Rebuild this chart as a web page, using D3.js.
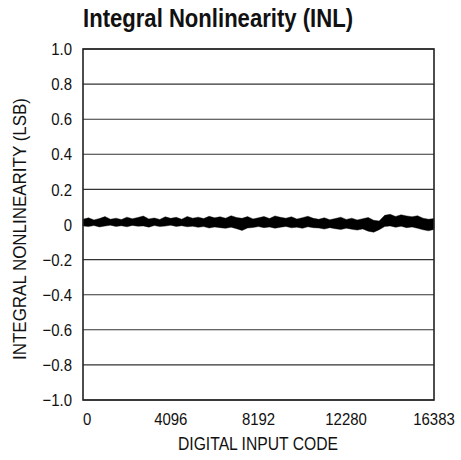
<!DOCTYPE html>
<html>
<head>
<meta charset="utf-8">
<script src="https://cdn.jsdelivr.net/npm/d3@7"></script>
<style>
  body { margin: 0; background: #fff; }
  text { font-family: "Liberation Sans Narrow", "Arial Narrow", "Liberation Sans", sans-serif; fill: #111; }
</style>
</head>
<body>
<div id="chart"></div>
<script>
// code positions of the samples (every 256 codes)
var codes = d3.range(0, 16384, 256).concat([16383]);
// upper / lower edge of the INL trace, LSB
var inlHigh = [0.030,0.038,0.026,0.034,0.045,0.030,0.036,0.028,0.042,0.033,0.040,0.048,0.032,0.037,0.029,0.044,0.035,0.041,0.030,0.046,0.036,
  0.042,0.034,0.047,0.038,0.044,0.036,0.050,0.040,0.035,0.045,0.032,
  0.038,0.046,0.034,0.049,0.041,0.036,0.044,0.031,0.039,0.047,0.035,
  0.030,0.038,0.027,0.034,0.042,0.029,0.036,0.026,0.033,0.040,0.024,0.020,
  0.052,0.058,0.046,0.055,0.049,0.044,0.050,
  0.036,0.030,0.034];
var inlLow = [-0.008,-0.012,-0.006,-0.014,-0.009,-0.004,-0.011,-0.007,-0.013,-0.005,-0.010,-0.008,-0.015,-0.006,-0.012,-0.009,-0.004,-0.011,-0.007,-0.013,-0.010,
  -0.016,-0.012,-0.020,-0.014,-0.018,-0.022,-0.015,-0.024,-0.034,-0.020,-0.017,
  -0.012,-0.018,-0.014,-0.021,-0.016,-0.011,-0.019,-0.015,-0.022,-0.013,-0.018,
  -0.020,-0.026,-0.018,-0.024,-0.029,-0.021,-0.027,-0.032,-0.025,-0.038,-0.044,-0.030,
  -0.012,-0.008,-0.016,-0.010,-0.018,-0.014,-0.022,
  -0.030,-0.036,-0.028];
var xTicks = [0, 4096, 8192, 12280, 16383];
var yTicks = [1.0,0.8,0.6,0.4,0.2,0,-0.2,-0.4,-0.6,-0.8,-1.0];

var W = 461, H = 460;
var m = {l:83, r:27, t:49, b:60};
var w = W - m.l - m.r, h = H - m.t - m.b;
var squeeze = 0.88; // no narrow face installed, so squash labels

var svg = d3.select("#chart").append("svg")
  .attr("width", W).attr("height", H);

var x = d3.scaleLinear().domain([0,16383]).range([0,w]);
var y = d3.scaleLinear().domain([-1,1]).range([h,0]);

var chart = svg.append("g").attr("transform","translate("+m.l+","+m.t+")");

// grid
chart.selectAll(".grid").data(yTicks).enter()
  .append("line").classed("grid",true)
  .attr("x1",0).attr("x2",w)
  .attr("y1",function(d){return y(d);}).attr("y2",function(d){return y(d);})
  .attr("stroke",function(d){return d===0 ? "#999" : "#333";})
  .attr("stroke-width",1.1);

// trace
var pts = codes.map(function(c,i){ return {c:c, hi:inlHigh[i], lo:inlLow[i]}; });
var area = d3.area()
  .x(function(d){return x(d.c);})
  .y0(function(d){return y(d.lo);})
  .y1(function(d){return y(d.hi);});
chart.append("path").datum(pts)
  .attr("d", area)
  .attr("fill","#000").attr("stroke","#000").attr("stroke-width",0.4);

// frame
chart.append("rect")
  .attr("width",w).attr("height",h)
  .attr("fill","none").attr("stroke","#222").attr("stroke-width",1.6);

// y labels
var fmt = function(d){ return d===0 ? "0" : d3.format(".1f")(d).replace("-","\u2013"); };
chart.selectAll(".ylab").data(yTicks).enter()
  .append("text").classed("ylab",true)
  .attr("transform",function(d){return "translate(-11,"+y(d)+") scale("+squeeze+",1)";})
  .attr("dy","0.36em")
  .attr("text-anchor","end")
  .style("font-size","17px")
  .text(fmt);

// x labels
chart.selectAll(".xlab").data(xTicks).enter()
  .append("text").classed("xlab",true)
  .attr("transform",function(d){return "translate("+x(d)+","+(h+25)+") scale("+squeeze+",1)";})
  .attr("text-anchor",function(d){return d===0 ? "start" : "middle";})
  .style("font-size","17px")
  .text(function(d){return d;});

// axis titles
svg.append("text")
  .attr("x", 178).attr("y", 450)
  .attr("textLength",160).attr("lengthAdjust","spacingAndGlyphs")
  .style("font-size","18px")
  .text("DIGITAL INPUT CODE");

svg.append("text")
  .attr("transform","translate(26,360) rotate(-90)")
  .attr("textLength",262).attr("lengthAdjust","spacingAndGlyphs")
  .style("font-size","17.5px")
  .text("INTEGRAL NONLINEARITY (LSB)");

// title
svg.append("text")
  .attr("x", 83).attr("y", 27)
  .attr("textLength", 270).attr("lengthAdjust","spacingAndGlyphs")
  .style("font-size","26px").style("font-weight","bold")
  .text("Integral Nonlinearity (INL)");
</script>
</body>
</html>
